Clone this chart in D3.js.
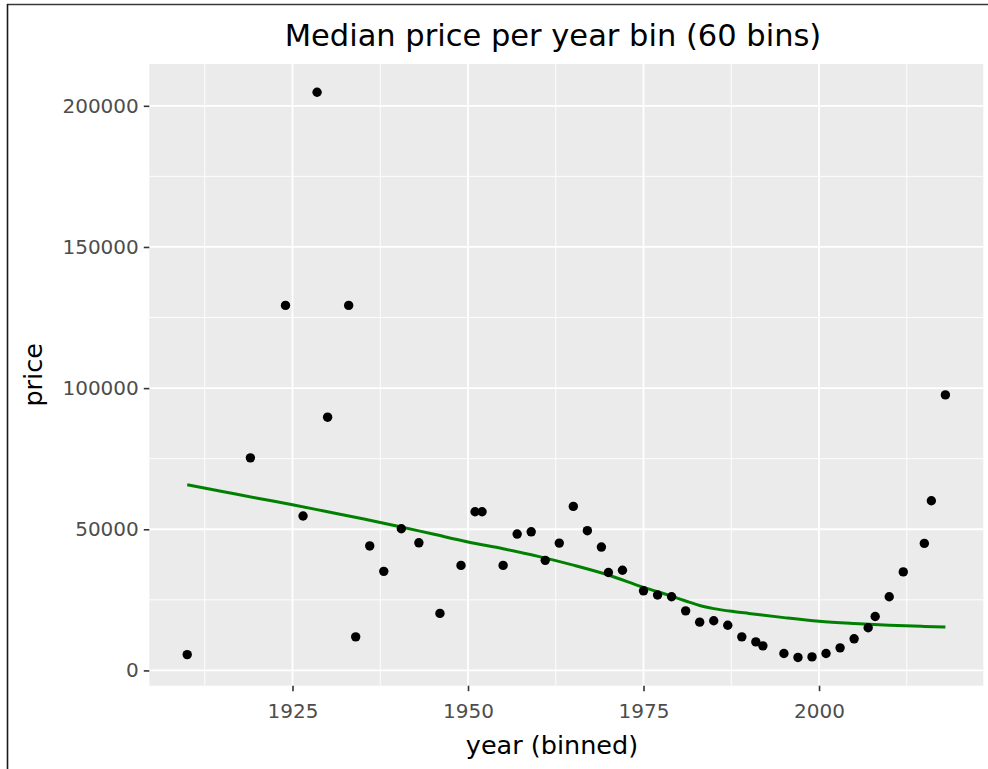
<!DOCTYPE html>
<html>
<head>
<meta charset="utf-8">
<script src="https://cdn.jsdelivr.net/npm/d3@7"></script>
<style>
  html, body { margin: 0; padding: 0; background: #fff; }
  svg { display: block; }
  text { font-family: "DejaVu Sans", sans-serif; }
</style>
</head>
<body>
<svg id="chart" width="988" height="769"></svg>
<script>
// Median price for each populated year bin
const binYears = [
  1910, 1919, 1924, 1926.5, 1928.5, 1930, 1933, 1934, 1936, 1938,
  1940.5, 1943, 1946, 1949, 1951, 1952, 1955, 1957, 1959, 1961,
  1963, 1965, 1967, 1969, 1970, 1972, 1975, 1977, 1979, 1981,
  1983, 1985, 1987, 1989, 1991, 1992, 1995, 1997, 1999, 2001,
  2003, 2005, 2007, 2008, 2010, 2012, 2015, 2016, 2018
];
const medianPrices = [
  5600, 75300, 129300, 54700, 204800, 89700, 129300, 11900, 44100, 35100,
  50200, 45200, 20200, 37200, 56200, 56200, 37200, 48300, 49100, 39000,
  45100, 58100, 49500, 43700, 34700, 35500, 28200, 26700, 26100, 21100,
  17100, 17600, 16000, 11900, 10100, 8700, 6000, 4600, 4800, 6000,
  8000, 11200, 15100, 19100, 26100, 34900, 45000, 60100, 97600
];

// Smoothed trend through the medians
const smoothYears = [
  1910, 1915, 1920, 1925, 1930, 1935, 1940, 1945, 1950, 1955,
  1960, 1965, 1970, 1975, 1979, 1981, 1983, 1985, 1988, 1990, 1995, 2000,
  2005, 2010, 2015, 2018
];
const smoothPrices = [
  65800, 63400, 61000, 58700, 56200, 53700, 51100, 48300, 45500, 43100,
  40400, 37300, 33800, 29400, 26300, 24600, 23000, 21900, 20800, 20200, 18700, 17400,
  16600, 16000, 15600, 15400
];

const xTicks = [1925, 1950, 1975, 2000];
const xMinor = [1912.5, 1937.5, 1962.5, 1987.5, 2012.5];
const yTicks = [0, 50000, 100000, 150000, 200000];
const yMinor = [25000, 75000, 125000, 175000];

const chartTitle = "Median price per year bin (60 bins)";
const xTitle = "year (binned)";
const yTitle = "price";

const svg = d3.select("#chart");
const panel = { left: 149.3, right: 983.3, top: 64, bottom: 685.7 };

// 5% padding on both ends, as in the grammar-of-graphics default
function padded(values) {
  const [lo, hi] = d3.extent(values);
  const pad = (hi - lo) * 0.05;
  return [lo - pad, hi + pad];
}

const x = d3.scaleLinear().domain(padded(binYears)).range([panel.left, panel.right]);
const y = d3.scaleLinear().domain(padded(medianPrices)).range([panel.bottom, panel.top]);

// frame edges
svg.append("line").attr("x1", 7).attr("x2", 988).attr("y1", 4.5).attr("y2", 4.5)
  .attr("stroke", "#3a3a3a").attr("stroke-width", 1.6);
svg.append("line").attr("x1", 7.5).attr("x2", 7.5).attr("y1", 4).attr("y2", 769)
  .attr("stroke", "#1a1a1a").attr("stroke-width", 1.6);

// panel background
svg.append("rect")
  .attr("x", panel.left).attr("y", panel.top)
  .attr("width", panel.right - panel.left).attr("height", panel.bottom - panel.top)
  .attr("fill", "#EBEBEB");

const grid = svg.append("g");
grid.selectAll(".xminor").data(xMinor).join("line")
  .attr("x1", d => x(d)).attr("x2", d => x(d))
  .attr("y1", panel.top).attr("y2", panel.bottom)
  .attr("stroke", "#fff").attr("stroke-width", 0.9);
grid.selectAll(".yminor").data(yMinor).join("line")
  .attr("y1", d => y(d)).attr("y2", d => y(d))
  .attr("x1", panel.left).attr("x2", panel.right)
  .attr("stroke", "#fff").attr("stroke-width", 0.9);
grid.selectAll(".xmajor").data(xTicks).join("line")
  .attr("x1", d => x(d)).attr("x2", d => x(d))
  .attr("y1", panel.top).attr("y2", panel.bottom)
  .attr("stroke", "#fff").attr("stroke-width", 1.8);
grid.selectAll(".ymajor").data(yTicks).join("line")
  .attr("y1", d => y(d)).attr("y2", d => y(d))
  .attr("x1", panel.left).attr("x2", panel.right)
  .attr("stroke", "#fff").attr("stroke-width", 1.8);

// axes
const xAxis = d3.axisBottom(x).tickValues(xTicks).tickFormat(d3.format("d"))
  .tickSize(5.5).tickPadding(4);
const yAxis = d3.axisLeft(y).tickValues(yTicks).tickFormat(d3.format("d"))
  .tickSize(5.5).tickPadding(5);

const gx = svg.append("g").attr("transform", `translate(0,${panel.bottom})`).call(xAxis);
const gy = svg.append("g").attr("transform", `translate(${panel.left},0)`).call(yAxis);
[gx, gy].forEach(g => {
  g.select(".domain").remove();
  g.selectAll(".tick line").attr("stroke", "#333").attr("stroke-width", 1.6);
  g.selectAll(".tick text").attr("fill", "#4D4D4D").attr("font-size", 20)
    .attr("font-family", "DejaVu Sans");
});
gx.selectAll(".tick text").attr("dy", "1.15em");

// trend line
const line = d3.line()
  .x((d, i) => x(smoothYears[i]))
  .y(d => y(d))
  .curve(d3.curveMonotoneX);
svg.append("path")
  .datum(smoothPrices)
  .attr("d", line)
  .attr("fill", "none")
  .attr("stroke", "#008000")
  .attr("stroke-width", 3);

// median points
svg.append("g").selectAll("circle")
  .data(medianPrices)
  .join("circle")
  .attr("cx", (d, i) => x(binYears[i]))
  .attr("cy", d => y(d))
  .attr("r", 4.7)
  .attr("fill", "#000");

// titles
svg.append("text")
  .attr("x", 553).attr("y", 46)
  .attr("text-anchor", "middle")
  .attr("font-size", 30.5)
  .attr("fill", "#000")
  .text(chartTitle);

svg.append("text")
  .attr("x", 552).attr("y", 754)
  .attr("text-anchor", "middle")
  .attr("font-size", 25.5)
  .attr("fill", "#000")
  .text(xTitle);

svg.append("text")
  .attr("transform", `translate(42,${(panel.top + panel.bottom) / 2}) rotate(-90)`)
  .attr("text-anchor", "middle")
  .attr("font-size", 25.5)
  .attr("fill", "#000")
  .text(yTitle);
</script>
</body>
</html>
